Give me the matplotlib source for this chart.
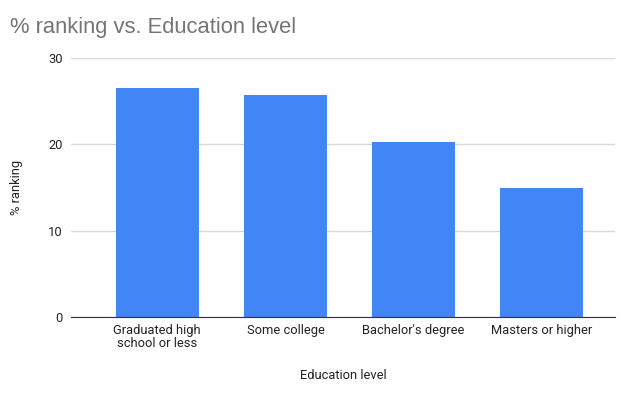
"""% ranking vs. Education level — bar chart."""

import matplotlib
matplotlib.use("Agg")
import matplotlib.pyplot as plt
import numpy as np

# ── data ──────────────────────────────────────────────────────────────
categories = ["Graduated high\nschool or less", "Some college",
              "Bachelor's degree", "Masters or higher"]
pct_ranking = [26.5, 25.7, 20.25, 14.9]
y_ticks = [0, 10, 20, 30]

BAR_COLOR = "#4285F4"
GRID_COLOR = "#d9d9d9"
TEXT_COLOR = "#222222"

plt.rcParams["font.family"] = ["Roboto", "DejaVu Sans"]

fig = plt.figure(figsize=(6.2, 3.97), dpi=100)
ax = fig.add_axes([71 / 620, 0.2008, (615 - 71) / 620, 0.854 - 0.2008])

x = np.arange(len(categories))
ax.bar(x, pct_ranking, width=0.65, color=BAR_COLOR, zorder=3)

ax.set_xlim(-0.673, 3.571)
ax.set_ylim(0, 30)
ax.set_yticks(y_ticks)
ax.set_xticks(x)
ax.set_xticklabels(categories, fontsize=9.3, color=TEXT_COLOR, linespacing=0.95)
ax.tick_params(axis="y", labelsize=9.3, labelcolor=TEXT_COLOR, length=0, pad=6)
ax.tick_params(axis="x", length=0, pad=5)

ax.grid(axis="y", color=GRID_COLOR, linewidth=1, zorder=0)
for s in ["top", "right", "left"]:
    ax.spines[s].set_visible(False)
ax.spines["bottom"].set_color("#333333")
ax.spines["bottom"].set_zorder(4)

ax.set_xlabel("Education level", fontsize=9.3, color=TEXT_COLOR, labelpad=14)
ax.set_ylabel("% ranking", fontsize=9.3, color=TEXT_COLOR, labelpad=18)

fig.text(10 / 620, 1 - 27 / 397, "% ranking vs. Education level",
         fontsize=15.8, color="#757575", family="Liberation Sans",
         ha="left", va="center")

fig.savefig("out.png", dpi=100)
plt.close(fig)
